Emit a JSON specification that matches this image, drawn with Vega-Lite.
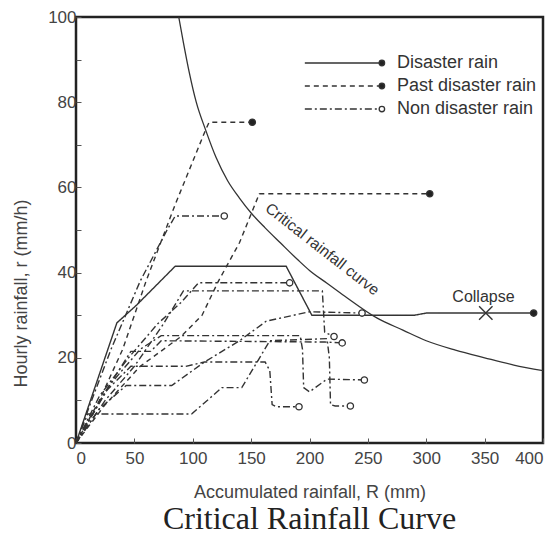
{
  "$schema": "https://vega.github.io/schema/vega-lite/v6.json",
  "width": 467,
  "height": 426,
  "autosize": "none",
  "padding": {"left": 76, "top": 17, "right": 17, "bottom": 104},
  "background": "white",
  "config": {
    "view": {"stroke": "#222", "strokeWidth": 2.5},
    "font": "Liberation Sans",
    "axis": {"grid": false, "domain": false, "labelFont": "Liberation Sans", "labelFontSize": 17, "labelColor": "#444", "titleFont": "Liberation Sans", "titleFontSize": 18, "titleFontWeight": "normal", "titleColor": "#444", "tickColor": "#555", "tickSize": -5, "tickWidth": 1}
  },
  "title": {"text": "Critical Rainfall Curve", "orient": "bottom", "font": "Liberation Serif", "fontSize": 32, "fontWeight": "normal", "color": "#222", "offset": 3},
  "datasets": {
    "curve": [
      {"R": 88, "r": 100}, {"R": 92, "r": 94}, {"R": 97, "r": 87}, {"R": 103, "r": 80}, {"R": 111, "r": 73.5},
      {"R": 120, "r": 67}, {"R": 130, "r": 61.5}, {"R": 140, "r": 57.5}, {"R": 150, "r": 54}, {"R": 162, "r": 50.5},
      {"R": 175, "r": 47}, {"R": 190, "r": 43}, {"R": 200, "r": 40.5}, {"R": 215, "r": 37.5}, {"R": 230, "r": 34.5},
      {"R": 258, "r": 29.3}, {"R": 280, "r": 26.5}, {"R": 300, "r": 24}, {"R": 325, "r": 21.8}, {"R": 350, "r": 20},
      {"R": 375, "r": 18.3}, {"R": 400, "r": 17}
    ],
    "rain": [
      {"id": "S1", "type": "Disaster rain", "R": 0, "r": 0},
      {"id": "S1", "type": "Disaster rain", "R": 35, "r": 28.2},
      {"id": "S1", "type": "Disaster rain", "R": 52, "r": 32.4},
      {"id": "S1", "type": "Disaster rain", "R": 85, "r": 41.5},
      {"id": "S1", "type": "Disaster rain", "R": 180, "r": 41.5},
      {"id": "S1", "type": "Disaster rain", "R": 202, "r": 30},
      {"id": "S1", "type": "Disaster rain", "R": 290, "r": 30},
      {"id": "S1", "type": "Disaster rain", "R": 300, "r": 30.5},
      {"id": "S1", "type": "Disaster rain", "R": 392, "r": 30.5},

      {"id": "P1", "type": "Past disaster rain", "R": 0, "r": 0},
      {"id": "P1", "type": "Past disaster rain", "R": 20, "r": 10},
      {"id": "P1", "type": "Past disaster rain", "R": 40, "r": 22},
      {"id": "P1", "type": "Past disaster rain", "R": 60, "r": 38},
      {"id": "P1", "type": "Past disaster rain", "R": 85, "r": 56},
      {"id": "P1", "type": "Past disaster rain", "R": 111, "r": 73.5},
      {"id": "P1", "type": "Past disaster rain", "R": 114, "r": 75.3},
      {"id": "P1", "type": "Past disaster rain", "R": 151, "r": 75.3},

      {"id": "P2", "type": "Past disaster rain", "R": 0, "r": 0},
      {"id": "P2", "type": "Past disaster rain", "R": 25, "r": 9},
      {"id": "P2", "type": "Past disaster rain", "R": 55, "r": 18},
      {"id": "P2", "type": "Past disaster rain", "R": 90, "r": 25},
      {"id": "P2", "type": "Past disaster rain", "R": 108, "r": 30},
      {"id": "P2", "type": "Past disaster rain", "R": 122, "r": 38},
      {"id": "P2", "type": "Past disaster rain", "R": 140, "r": 47},
      {"id": "P2", "type": "Past disaster rain", "R": 157, "r": 58.5},
      {"id": "P2", "type": "Past disaster rain", "R": 303, "r": 58.5},

      {"id": "N1", "type": "Non disaster rain", "R": 0, "r": 0},
      {"id": "N1", "type": "Non disaster rain", "R": 12, "r": 9},
      {"id": "N1", "type": "Non disaster rain", "R": 30, "r": 22},
      {"id": "N1", "type": "Non disaster rain", "R": 55, "r": 38},
      {"id": "N1", "type": "Non disaster rain", "R": 78, "r": 50},
      {"id": "N1", "type": "Non disaster rain", "R": 85, "r": 53.3},
      {"id": "N1", "type": "Non disaster rain", "R": 127, "r": 53.3},

      {"id": "N2", "type": "Non disaster rain", "R": 0, "r": 0},
      {"id": "N2", "type": "Non disaster rain", "R": 20, "r": 11},
      {"id": "N2", "type": "Non disaster rain", "R": 45, "r": 20},
      {"id": "N2", "type": "Non disaster rain", "R": 70, "r": 28},
      {"id": "N2", "type": "Non disaster rain", "R": 90, "r": 33},
      {"id": "N2", "type": "Non disaster rain", "R": 105, "r": 37.6},
      {"id": "N2", "type": "Non disaster rain", "R": 183, "r": 37.6},

      {"id": "N3", "type": "Non disaster rain", "R": 0, "r": 0},
      {"id": "N3", "type": "Non disaster rain", "R": 25, "r": 10},
      {"id": "N3", "type": "Non disaster rain", "R": 50, "r": 18},
      {"id": "N3", "type": "Non disaster rain", "R": 75, "r": 28},
      {"id": "N3", "type": "Non disaster rain", "R": 92, "r": 35.7},
      {"id": "N3", "type": "Non disaster rain", "R": 211, "r": 35.7},
      {"id": "N3", "type": "Non disaster rain", "R": 213, "r": 26},
      {"id": "N3", "type": "Non disaster rain", "R": 221, "r": 25},

      {"id": "N4", "type": "Non disaster rain", "R": 0, "r": 0},
      {"id": "N4", "type": "Non disaster rain", "R": 20, "r": 8},
      {"id": "N4", "type": "Non disaster rain", "R": 43, "r": 13.5},
      {"id": "N4", "type": "Non disaster rain", "R": 82, "r": 13.5},
      {"id": "N4", "type": "Non disaster rain", "R": 110, "r": 19},
      {"id": "N4", "type": "Non disaster rain", "R": 140, "r": 24},
      {"id": "N4", "type": "Non disaster rain", "R": 163, "r": 28.6},
      {"id": "N4", "type": "Non disaster rain", "R": 200, "r": 30.8},
      {"id": "N4", "type": "Non disaster rain", "R": 245, "r": 30.5},

      {"id": "N5", "type": "Non disaster rain", "R": 0, "r": 0},
      {"id": "N5", "type": "Non disaster rain", "R": 25, "r": 12},
      {"id": "N5", "type": "Non disaster rain", "R": 47, "r": 18},
      {"id": "N5", "type": "Non disaster rain", "R": 94, "r": 18},
      {"id": "N5", "type": "Non disaster rain", "R": 110, "r": 19},
      {"id": "N5", "type": "Non disaster rain", "R": 162, "r": 19},
      {"id": "N5", "type": "Non disaster rain", "R": 166, "r": 17},
      {"id": "N5", "type": "Non disaster rain", "R": 168, "r": 9},
      {"id": "N5", "type": "Non disaster rain", "R": 172, "r": 8.5},
      {"id": "N5", "type": "Non disaster rain", "R": 191, "r": 8.5},

      {"id": "N6", "type": "Non disaster rain", "R": 0, "r": 0},
      {"id": "N6", "type": "Non disaster rain", "R": 25, "r": 12},
      {"id": "N6", "type": "Non disaster rain", "R": 47, "r": 21.5},
      {"id": "N6", "type": "Non disaster rain", "R": 64, "r": 21.5},
      {"id": "N6", "type": "Non disaster rain", "R": 73, "r": 24},
      {"id": "N6", "type": "Non disaster rain", "R": 213, "r": 23.7},
      {"id": "N6", "type": "Non disaster rain", "R": 228, "r": 23.5},

      {"id": "N7", "type": "Non disaster rain", "R": 0, "r": 0},
      {"id": "N7", "type": "Non disaster rain", "R": 30, "r": 14},
      {"id": "N7", "type": "Non disaster rain", "R": 55, "r": 22},
      {"id": "N7", "type": "Non disaster rain", "R": 73, "r": 25.2},
      {"id": "N7", "type": "Non disaster rain", "R": 192, "r": 25.2},
      {"id": "N7", "type": "Non disaster rain", "R": 194, "r": 22},
      {"id": "N7", "type": "Non disaster rain", "R": 195, "r": 13},
      {"id": "N7", "type": "Non disaster rain", "R": 200, "r": 12},
      {"id": "N7", "type": "Non disaster rain", "R": 215, "r": 15},
      {"id": "N7", "type": "Non disaster rain", "R": 247, "r": 14.8},

      {"id": "N8", "type": "Non disaster rain", "R": 0, "r": 0},
      {"id": "N8", "type": "Non disaster rain", "R": 10, "r": 6.8},
      {"id": "N8", "type": "Non disaster rain", "R": 99, "r": 6.8},
      {"id": "N8", "type": "Non disaster rain", "R": 125, "r": 13},
      {"id": "N8", "type": "Non disaster rain", "R": 142, "r": 13},
      {"id": "N8", "type": "Non disaster rain", "R": 166, "r": 24},
      {"id": "N8", "type": "Non disaster rain", "R": 215, "r": 24.5},
      {"id": "N8", "type": "Non disaster rain", "R": 217, "r": 20},
      {"id": "N8", "type": "Non disaster rain", "R": 218, "r": 9},
      {"id": "N8", "type": "Non disaster rain", "R": 222, "r": 8.7},
      {"id": "N8", "type": "Non disaster rain", "R": 235, "r": 8.7}
    ],
    "ends": [
      {"type": "Disaster rain", "R": 392, "r": 30.5},
      {"type": "Past disaster rain", "R": 151, "r": 75.3},
      {"type": "Past disaster rain", "R": 303, "r": 58.5},
      {"type": "Non disaster rain", "R": 127, "r": 53.3},
      {"type": "Non disaster rain", "R": 183, "r": 37.6},
      {"type": "Non disaster rain", "R": 221, "r": 25},
      {"type": "Non disaster rain", "R": 245, "r": 30.5},
      {"type": "Non disaster rain", "R": 191, "r": 8.5},
      {"type": "Non disaster rain", "R": 228, "r": 23.5},
      {"type": "Non disaster rain", "R": 247, "r": 14.8},
      {"type": "Non disaster rain", "R": 235, "r": 8.7}
    ],
    "legend": [
      {"type": "Disaster rain", "R1": 196, "R2": 262, "RT": 275, "r": 89.2},
      {"type": "Past disaster rain", "R1": 196, "R2": 262, "RT": 275, "r": 83.8},
      {"type": "Non disaster rain", "R1": 196, "R2": 262, "RT": 275, "r": 78.4}
    ],
    "notes": [
      {"label": "Critical rainfall curve", "R": 211, "r": 45.5, "angle": 38, "size": 15.5},
      {"label": "Collapse", "R": 349, "r": 34.3, "angle": 0, "size": 16}
    ]
  },
  "layer": [
    {
      "data": {"name": "curve"},
      "mark": {"type": "line", "color": "#333", "strokeWidth": 1.3, "interpolate": "monotone", "clip": true},
      "encoding": {
        "x": {"field": "R", "type": "quantitative", "scale": {"domain": [0, 400], "nice": false},
              "axis": {"values": [0, 50, 100, 150, 200, 250, 300, 350, 400], "labelPadding": 12, "title": "Accumulated rainfall, R (mm)", "titlePadding": 17}},
        "y": {"field": "r", "type": "quantitative", "scale": {"domain": [0, 100], "nice": false},
              "axis": {"values": [0, 10, 20, 30, 40, 50, 60, 70, 80, 90, 100], "labelExpr": "datum.value % 20 == 0 ? datum.label : ''", "labelPadding": 5, "title": "Hourly rainfall, r (mm/h)", "titleX": -55, "titleY": 276, "titleBaseline": "middle"}}
      }
    },
    {
      "data": {"name": "rain"},
      "mark": {"type": "line", "color": "#333", "strokeWidth": 1.4},
      "encoding": {
        "x": {"field": "R", "type": "quantitative"},
        "y": {"field": "r", "type": "quantitative"},
        "detail": {"field": "id"},
        "order": {"value": null},
        "strokeDash": {"field": "type", "type": "nominal", "scale": {"domain": ["Disaster rain", "Past disaster rain", "Non disaster rain"], "range": [[1, 0], [5, 4], [7, 3, 2, 3]]}, "legend": null},
        "strokeWidth": {"field": "type", "type": "nominal", "scale": {"domain": ["Disaster rain", "Past disaster rain", "Non disaster rain"], "range": [1.8, 1.5, 1.3]}, "legend": null}
      }
    },
    {
      "data": {"name": "ends"},
      "mark": {"type": "point", "size": 40, "strokeWidth": 1.3, "color": "#333", "opacity": 1},
      "encoding": {
        "x": {"field": "R", "type": "quantitative"},
        "y": {"field": "r", "type": "quantitative"},
        "fill": {"field": "type", "type": "nominal", "scale": {"domain": ["Disaster rain", "Past disaster rain", "Non disaster rain"], "range": ["#222", "#222", "#ffffff"]}, "legend": null}
      }
    },
    {
      "data": {"values": [{"R": 351, "r": 30.5}]},
      "mark": {"type": "point", "shape": "M-1,-1L1,1M-1,1L1,-1", "size": 180, "filled": false, "color": "#333", "strokeWidth": 1.4, "opacity": 1},
      "encoding": {
        "x": {"field": "R", "type": "quantitative"},
        "y": {"field": "r", "type": "quantitative"}
      }
    },
    {
      "data": {"name": "legend"},
      "mark": {"type": "rule", "color": "#333", "strokeWidth": 1.5},
      "encoding": {
        "x": {"field": "R1", "type": "quantitative"},
        "x2": {"field": "R2"},
        "y": {"field": "r", "type": "quantitative"},
        "strokeDash": {"field": "type", "type": "nominal", "scale": {"domain": ["Disaster rain", "Past disaster rain", "Non disaster rain"], "range": [[1, 0], [5, 4], [7, 3, 2, 3]]}, "legend": null}
      }
    },
    {
      "data": {"name": "legend"},
      "mark": {"type": "point", "size": 30, "strokeWidth": 1.3, "color": "#333", "opacity": 1},
      "encoding": {
        "x": {"field": "R2", "type": "quantitative"},
        "y": {"field": "r", "type": "quantitative"},
        "fill": {"field": "type", "type": "nominal", "scale": {"domain": ["Disaster rain", "Past disaster rain", "Non disaster rain"], "range": ["#222", "#222", "#ffffff"]}, "legend": null}
      }
    },
    {
      "data": {"name": "legend"},
      "mark": {"type": "text", "align": "left", "baseline": "middle", "fontSize": 18, "color": "#333", "font": "Liberation Sans"},
      "encoding": {
        "x": {"field": "RT", "type": "quantitative"},
        "y": {"field": "r", "type": "quantitative"},
        "text": {"field": "type"}
      }
    },
    {
      "data": {"name": "notes"},
      "mark": {"type": "text", "align": "center", "baseline": "middle", "color": "#333", "font": "Liberation Sans"},
      "encoding": {
        "x": {"field": "R", "type": "quantitative"},
        "y": {"field": "r", "type": "quantitative"},
        "text": {"field": "label"},
        "angle": {"field": "angle", "type": "quantitative", "scale": null},
        "size": {"field": "size", "type": "quantitative", "scale": null}
      }
    }
  ]
}
